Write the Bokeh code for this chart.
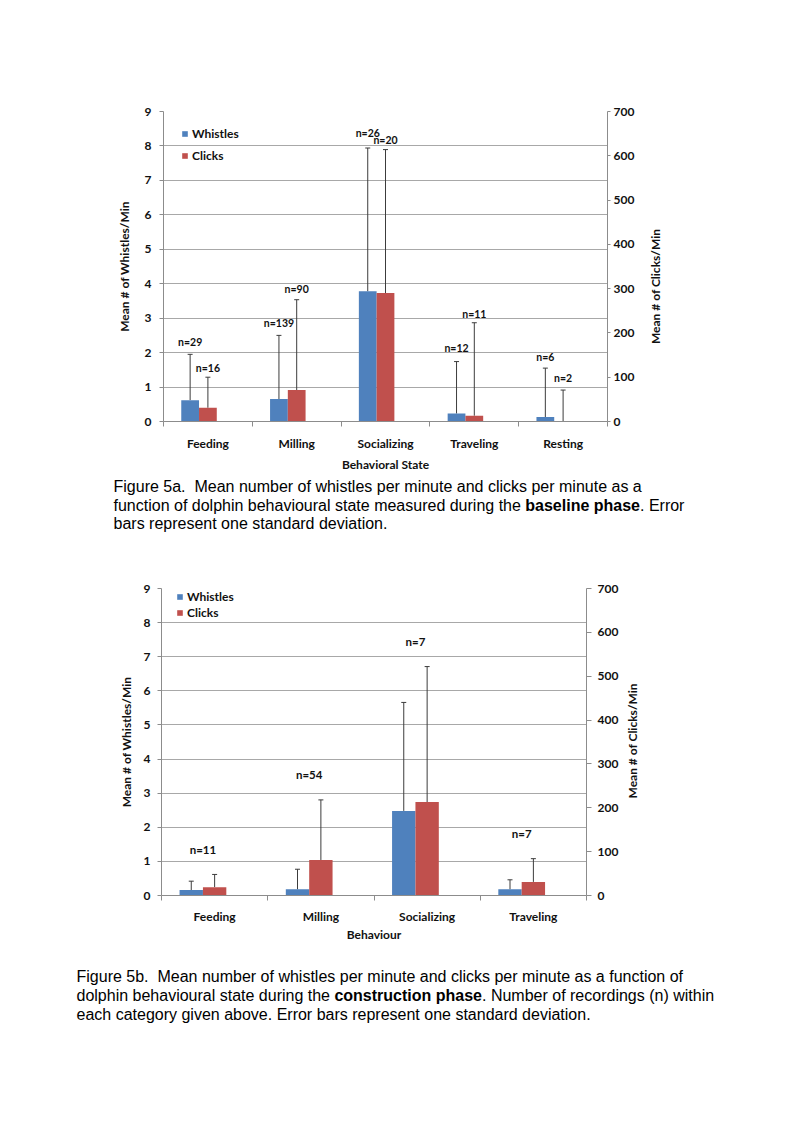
import math
from bokeh.plotting import figure
from bokeh.models import (Range1d, LinearAxis, FixedTicker, Whisker, TeeHead,
                          ColumnDataSource, Legend, LegendItem)
from bokeh.layouts import column, row
from bokeh.embed import file_html
from bokeh.resources import INLINE
from bokeh.core.properties import value

# ---------------- data: Figure 5a (baseline phase) ----------------
cats_a = ["Feeding", "Milling", "Socializing", "Traveling", "Resting"]
whistles_a = [0.62, 0.65, 3.78, 0.23, 0.13]
whistles_sd_a = [1.33, 1.85, 4.16, 1.51, 1.42]
clicks_a = [31, 71, 290, 13, 0]
clicks_sd_a = [69, 204, 324, 210, 71]
n_whistles_a = [29, 139, 26, 12, 6]
n_clicks_a = [16, 90, 20, 11, 2]

# ---------------- data: Figure 5b (construction phase) ----------------
cats_b = ["Feeding", "Milling", "Socializing", "Traveling"]
whistles_b = [0.16, 0.18, 2.48, 0.18]
whistles_sd_b = [0.26, 0.59, 3.18, 0.28]
clicks_b = [19, 81, 213, 31]
clicks_sd_b = [29, 137, 309, 53]
n_b = [11, 54, 7, 7]

whistle_ticks = list(range(0, 10))
click_ticks = list(range(0, 701, 100))

# label lifts above error-bar tops (pixels, styling only)
lift_wh_a = [12, 12, 15, 14, 11]
lift_cl_a = [9, 11, 10, 9, 12]

FONT = "Lato"
FS = "12px"
CAP_FONT = "Liberation Sans"
BLUE = "#4F81BD"
RED = "#C0504D"
GRID = "#a8a8a8"
AXIS = "#8c8c8c"
ERR = "#3c3c3c"
TXT = "#111111"
NBSP = "\u00a0"

# Arial / Liberation Sans advance widths (1/1000 em) for caption layout
ARIAL = {' ': 278, NBSP: 278, 'a': 556, 'b': 556, 'c': 500, 'd': 556, 'e': 556,
         'f': 278, 'g': 556, 'h': 556, 'i': 222, 'l': 222, 'm': 833, 'n': 556,
         'o': 556, 'p': 556, 'r': 333, 's': 500, 't': 278, 'u': 556, 'v': 500}
ARIAL_B = {' ': 278, 'a': 556, 'b': 611, 'c': 556, 'e': 556, 'h': 611, 'i': 278,
           'l': 278, 'n': 611, 'o': 611, 'p': 611, 'r': 389, 's': 556, 't': 333,
           'u': 611}
CAP_SIZE = 16
PAGE_W = 785


def tw(s, table):
    return sum(table.get(ch, 556) for ch in s) * CAP_SIZE / 1000.0


def blank(width, height):
    f = figure(width=width, height=height, output_backend="svg", toolbar_location=None,
               x_range=Range1d(0, width), y_range=Range1d(0, height),
               x_axis_location=None, y_axis_location=None, min_border=0)
    f.outline_line_color = None
    f.xgrid.visible = False
    f.ygrid.visible = False
    f.background_fill_color = "white"
    f.border_fill_color = "white"
    return f


def style_text_axis(ax, standoff):
    ax.major_label_text_font = FONT
    ax.major_label_text_font_style = "bold"
    ax.major_label_text_font_size = FS
    ax.major_label_text_color = TXT
    ax.major_label_standoff = standoff
    ax.axis_label_text_font = FONT
    ax.axis_label_text_font_style = "bold"
    ax.axis_label_text_font_size = FS
    ax.axis_label_text_color = TXT


def make_chart(cats, wh, wh_sd, cl, cl_sd, bar_w, width, height,
               mb_left, mb_right, mb_top, mb_bottom, xtitle,
               legend_loc, legend_lh, ylab_standoff, ytick_standoff,
               rtick_standoff, rtick_out, xtick_standoff, xtitle_standoff):
    n = len(cats)
    p = figure(width=width, height=height, output_backend="svg",
               toolbar_location=None, x_range=Range1d(0, n), y_range=Range1d(0, 9),
               min_border_left=mb_left, min_border_right=mb_right,
               min_border_top=mb_top, min_border_bottom=mb_bottom)
    p.extra_y_ranges = {"clicks": Range1d(0, 700)}
    p.outline_line_color = None
    p.background_fill_color = "white"
    p.border_fill_color = "white"
    p.xgrid.visible = False
    p.ygrid.ticker = FixedTicker(ticks=whistle_ticks)
    p.ygrid.grid_line_color = GRID
    p.ygrid.grid_line_width = 1

    centers = [i + 0.5 for i in range(n)]
    wx = [c - bar_w for c in centers]
    cx = list(centers)

    rw = p.vbar(x=wx, top=wh, bottom=0, width=bar_w, fill_color=BLUE, line_color=None)
    rc = p.vbar(x=cx, top=cl, bottom=0, width=bar_w, fill_color=RED, line_color=None,
                y_range_name="clicks")

    # error bars: one standard deviation, upper side only
    wsrc = ColumnDataSource(dict(x=wx, base=wh, upper=[a + b for a, b in zip(wh, wh_sd)]))
    csrc = ColumnDataSource(dict(x=cx, base=cl, upper=[a + b for a, b in zip(cl, cl_sd)]))
    p.add_layout(Whisker(source=wsrc, base="x", lower="base", upper="upper",
                         dimension="height", line_color=ERR, line_width=1,
                         upper_head=TeeHead(size=5, line_color=ERR, line_width=1),
                         lower_head=None))
    p.add_layout(Whisker(source=csrc, base="x", lower="base", upper="upper",
                         dimension="height", line_color=ERR, line_width=1,
                         upper_head=TeeHead(size=5, line_color=ERR, line_width=1),
                         lower_head=None, y_range_name="clicks"))

    # left axis (whistles)
    ya = p.yaxis[0]
    ya.ticker = FixedTicker(ticks=whistle_ticks)
    ya.axis_label = "Mean # of Whistles/Min"
    ya.axis_line_color = AXIS
    ya.major_tick_line_color = AXIS
    ya.major_tick_out = 4
    ya.major_tick_in = 0
    ya.minor_tick_line_color = None
    style_text_axis(ya, ytick_standoff)
    ya.axis_label_standoff = ylab_standoff

    # right axis (clicks)
    ra = LinearAxis(y_range_name="clicks", ticker=FixedTicker(ticks=click_ticks))
    ra.axis_line_color = AXIS
    ra.major_tick_line_color = AXIS
    ra.major_tick_out = rtick_out
    ra.major_tick_in = 0
    ra.minor_tick_line_color = None
    style_text_axis(ra, rtick_standoff)
    p.add_layout(ra, "right")

    # x axis: labels at category centres, tick marks at category boundaries
    xa = p.xaxis[0]
    xa.ticker = FixedTicker(ticks=centers, minor_ticks=list(range(n + 1)))
    xa.major_label_overrides = {c: cat for c, cat in zip(centers, cats)}
    xa.axis_line_color = AXIS
    xa.major_tick_line_color = None
    xa.major_tick_out = 0
    xa.major_tick_in = 0
    xa.minor_tick_line_color = AXIS
    xa.minor_tick_out = 5
    xa.minor_tick_in = 0
    style_text_axis(xa, xtick_standoff)
    xa.axis_label = xtitle
    xa.axis_label_standoff = xtitle_standoff

    legend = Legend(items=[LegendItem(label="Whistles", renderers=[rw]),
                           LegendItem(label="Clicks", renderers=[rc])],
                    location=legend_loc, orientation="vertical",
                    border_line_color=None, background_fill_alpha=0,
                    padding=0, margin=0, spacing=0,
                    glyph_width=7, glyph_height=7, label_height=legend_lh,
                    label_standoff=4, label_text_font=FONT,
                    label_text_font_style="bold", label_text_font_size=FS,
                    label_text_color=TXT)
    p.add_layout(legend)
    return p, wx, cx


def right_title(width, height, x, y_from_top):
    f = blank(width, height)
    f.text(x=[x], y=[height - y_from_top], text=["Mean # of Clicks/Min"],
           angle=math.pi / 2, text_align="center", text_baseline="middle",
           text_font=value(FONT), text_font_style="bold", text_font_size=FS,
           text_color=TXT)
    return f


def caption(height, x0, ys_from_top, lines):
    f = blank(PAGE_W, height)
    for yt, segs in zip(ys_from_top, lines):
        x = x0
        for txt, bold in segs:
            f.text(x=[x], y=[height - yt], text=[txt], text_font=value(CAP_FONT),
                   text_font_size=f"{CAP_SIZE}px",
                   text_font_style="bold" if bold else "normal",
                   text_color="black", text_align="left", text_baseline="middle")
            x += tw(txt, ARIAL_B if bold else ARIAL)
    return f


# ---------------- chart a ----------------
WA = 642
pa, wxa, cxa = make_chart(
    cats_a, whistles_a, whistles_sd_a, clicks_a, clicks_sd_a, bar_w=0.2,
    width=WA, height=475, mb_left=163, mb_right=35, mb_top=111, mb_bottom=54,
    xtitle="Behavioral State", legend_loc=(18, 255), legend_lh=22,
    ylab_standoff=10, ytick_standoff=8, rtick_standoff=3, rtick_out=3,
    xtick_standoff=9, xtitle_standoff=3)

pa.text(x=wxa, y=[a + b for a, b in zip(whistles_a, whistles_sd_a)],
        text=[f"n={k}" for k in n_whistles_a], text_font=value(FONT),
        text_font_style="bold", text_font_size="10.5px", text_color=TXT,
        text_align="center", text_baseline="middle", y_offset=[-v for v in lift_wh_a])
pa.text(x=cxa, y=[a + b for a, b in zip(clicks_a, clicks_sd_a)],
        text=[f"n={k}" for k in n_clicks_a], text_font=value(FONT),
        text_font_style="bold", text_font_size="10.5px", text_color=TXT,
        text_align="center", text_baseline="middle", y_offset=[-v for v in lift_cl_a],
        y_range_name="clicks")

ta = right_title(PAGE_W - WA, 475, 655 - WA, 268)

cap_a = caption(70, 113, [11, 30, 48], [
    [("Figure 5a." + NBSP + " Mean number of whistles per minute and clicks per minute as a", False)],
    [("function of dolphin behavioural state measured during the ", False),
     ("baseline phase", True), (". Error", False)],
    [("bars represent one standard deviation.", False)],
])

# ---------------- chart b ----------------
WB = 622
pb, wxb, cxb = make_chart(
    cats_b, whistles_b, whistles_sd_b, clicks_b, clicks_sd_b, bar_w=0.22,
    width=WB, height=405, mb_left=161, mb_right=36, mb_top=43, mb_bottom=55,
    xtitle="Behaviour", legend_loc=(15, 275), legend_lh=16,
    ylab_standoff=7, ytick_standoff=7, rtick_standoff=6, rtick_out=5,
    xtick_standoff=8, xtitle_standoff=0)

pb.text(x=[c - 0.11 for c in cxb], y=[a + b for a, b in zip(clicks_b, clicks_sd_b)],
        text=[f"n={k}" for k in n_b], text_font=value(FONT),
        text_font_style="bold", text_font_size="11.5px", text_color=TXT,
        text_align="center", text_baseline="middle", y_offset=-25,
        y_range_name="clicks")

tb = right_title(PAGE_W - WB, 405, 632 - WB, 746 - 545)

cap_b = caption(90, 76, [26, 45, 64], [
    [("Figure 5b." + NBSP + " Mean number of whistles per minute and clicks per minute as a function of", False)],
    [("dolphin behavioural state during the ", False), ("construction phase", True),
     (". Number of recordings (n) within", False)],
    [("each category given above. Error bars represent one standard deviation.", False)],
])

layout = column(row(pa, ta), cap_a, row(pb, tb), cap_b)
open("out.html", "w").write(file_html(layout, INLINE))
